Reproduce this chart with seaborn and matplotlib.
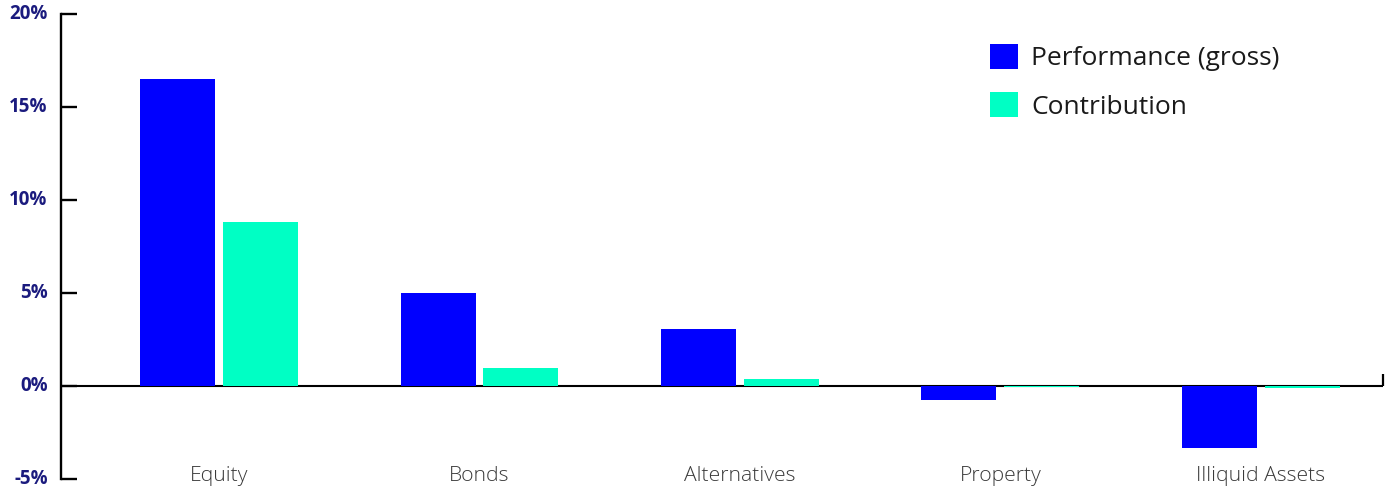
import matplotlib
matplotlib.use("Agg")
import matplotlib.pyplot as plt
from matplotlib.transforms import ScaledTranslation
import pandas as pd
import seaborn as sns

# Asset-class returns and contribution to total portfolio return (%)
categories = ["Equity", "Bonds", "Alternatives", "Property", "Illiquid Assets"]
performance = [16.5, 5.0, 3.1, -0.75, -3.3]
contribution = [8.8, 1.0, 0.4, -0.06, -0.12]
series_names = ["Performance (gross)", "Contribution"]
series_colors = ["#0000FF", "#00FFC4"]
y_ticks = [-5, 0, 5, 10, 15, 20]
y_tick_labels = [f"{t}%" for t in y_ticks]

df = pd.DataFrame({
    "category": categories * 2,
    "series": [series_names[0]] * len(categories) + [series_names[1]] * len(categories),
    "value": performance + contribution,
})

sns.set_style("white")
plt.rcParams["font.family"] = ["Open Sans", "DejaVu Sans"]

W, H = 1391, 488
fig = plt.figure(figsize=(W / 100, H / 100), dpi=100)
ax = fig.add_axes([60.7 / W, 1 - 479.3 / H, (1382.5 - 60.7) / W, (479.3 - 14) / H])

sns.barplot(
    data=df, x="category", y="value", hue="series",
    order=categories, hue_order=series_names, palette=series_colors,
    width=0.637, gap=0.096, saturation=1, linewidth=0, ax=ax,
)

ax.set_xlim(-0.608, 4.467)
ax.set_ylim(y_ticks[0], y_ticks[-1])
ax.set_yticks(y_ticks)
ax.set_yticklabels(y_tick_labels)
ax.set_xlabel("")
ax.set_ylabel("")

# zero baseline with a small closing tick on the right end
ax.axhline(0, color="black", lw=1.5, zorder=0.5)
ymin, ymax = ax.get_ylim()
ax.axvline(ax.get_xlim()[1], ymin=(0 - ymin) / (ymax - ymin),
           ymax=(0.65 - ymin) / (ymax - ymin), color="black", lw=1.6,
           clip_on=False, solid_capstyle="butt")

for side in ["top", "right", "bottom"]:
    ax.spines[side].set_visible(False)
ax.spines["left"].set_linewidth(1.7)
ax.spines["left"].set_color("black")

ax.tick_params(axis="y", left=True, direction="in", length=11.5, width=1.7,
               color="black", pad=9.4, labelsize=13.5, labelcolor="#1b1b7e")
lift = ScaledTranslation(0, 2.5 / 100, fig.dpi_scale_trans)
for lbl in ax.get_yticklabels():
    lbl.set_fontweight("bold")
    lbl.set_transform(lbl.get_transform() + lift)

ax.tick_params(axis="x", bottom=False, length=0, pad=-9.5, labelsize=15.2,
               labelcolor="#3a3a3a")
for lbl in ax.get_xticklabels():
    lbl.set_fontweight("light")

handles, labels = ax.get_legend_handles_labels()
ax.legend(
    handles, labels, loc="upper left",
    bbox_to_anchor=(990 / W, 1 - 44 / H), bbox_transform=fig.transFigure,
    frameon=False, fontsize=19, handlelength=1.06, handleheight=1.06,
    handletextpad=0.5, labelspacing=0.8, borderaxespad=0, borderpad=0,
    labelcolor="#1a1a1a",
)

fig.savefig("out.png", dpi=100, facecolor="white")
